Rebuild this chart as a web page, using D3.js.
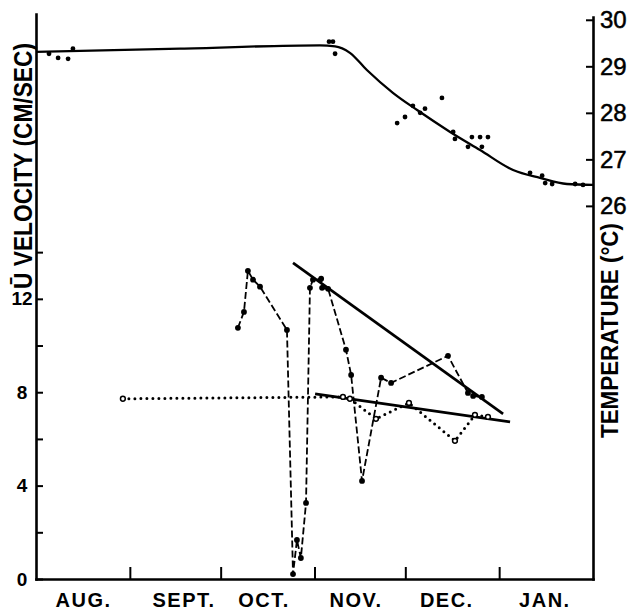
<!DOCTYPE html>
<html>
<head>
<meta charset="utf-8">
<script src="https://cdn.jsdelivr.net/npm/d3@7"></script>
<style>
  body { margin: 0; background: #fff; }
  text { font-family: "Liberation Sans", Arial, sans-serif; fill: #000; }
</style>
</head>
<body>
<div id="chart"></div>
<script>
// days are counted from 1 August
const monthStarts = [31, 61, 92, 122, 153];
const monthNames = ['AUG.', 'SEPT.', 'OCT.', 'NOV.', 'DEC.', 'JAN.'];
const monthLabelDays = [15.7, 48.9, 75.3, 105.7, 135.7, 168.1];
const velocityTicks = [0, 2, 4, 6, 8, 10, 12, 14];
const velocityLabels = [0, 4, 8, 12];
const tempTicks = [26, 27, 28, 29, 30];

// smoothed temperature curve
const tempCurveDays = [0, 47.6, 93.8, 98.8, 103.7, 109.3, 117.9, 125.9, 136.8, 146.7, 157.6, 166.5, 175.4, 184];
const tempCurveVals = [29.31, 29.38, 29.45, 29.43, 29.29, 28.92, 28.43, 28.06, 27.59, 27.2, 26.77, 26.6, 26.47, 26.45];
// observed temperatures
const tempObsDays = [4.3, 7.3, 10.6, 12.2, 96.8, 98.1, 98.8, 119.3, 121.9, 124.5, 126.9, 128.5, 134.1, 137.8, 138.4, 142.7, 144.0, 146.7, 147.3, 149.3, 163.2, 167.2, 168.2, 170.5, 178.1, 180.7];
const tempObsVals = [29.27, 29.18, 29.16, 29.38, 29.53, 29.53, 29.27, 27.78, 27.91, 28.15, 28.0, 28.09, 28.32, 27.59, 27.44, 27.27, 27.48, 27.48, 27.27, 27.48, 26.71, 26.65, 26.49, 26.47, 26.47, 26.45];

// velocity, dashed series (filled dots)
const dashDays = [66.7, 68.7, 70.0, 71.7, 74.0, 82.9, 84.9, 86.2, 87.5, 89.2, 90.5, 91.5, 94.2, 94.5, 96.5, 102.4, 104.1, 107.7, 114.0, 117.3, 136.1, 142.7, 144.4, 147.3];
const dashVals = [10.76, 11.44, 13.2, 12.82, 12.52, 10.67, 0.21, 1.67, 0.9, 3.26, 12.47, 12.82, 12.86, 12.47, 12.43, 9.82, 8.74, 4.2, 8.62, 8.4, 9.56, 7.97, 7.84, 7.8];

// velocity, dotted series (open circles)
const dotDays = [28.7, 101.4, 103.7, 112.3, 123.2, 138.4, 145.0, 149.3];
const dotVals = [7.72, 7.8, 7.72, 6.86, 7.54, 5.92, 7.03, 6.94];

// fitted straight lines
const fitSteepDays = [84.9, 154.3];
const fitSteepVals = [13.54, 7.07];
const fitFlatDays = [92.2, 156.6];
const fitFlatVals = [7.93, 6.73];

const W = 637, H = 612;
const svg = d3.select('#chart').append('svg')
  .attr('width', W).attr('height', H);

const x = d3.scaleLinear().domain([0, 184]).range([36, 593]);
const yV = d3.scaleLinear().domain([0, 24.2]).range([579, 14]);
const yT = d3.scaleLinear().domain([17.98, 30.06]).range([579, 17]);

// axes
const leftAxis = svg.append('g').attr('transform', 'translate(36,0)')
  .call(d3.axisLeft(yV).tickValues(velocityTicks).tickSizeInner(-7).tickSizeOuter(0)
    .tickPadding(14).tickFormat(d => velocityLabels.includes(d) ? d : ''));
leftAxis.selectAll('text').attr('text-anchor', 'middle')
  .style('font-size', '19px').style('font-weight', 'bold');

const rightAxis = svg.append('g').attr('transform', 'translate(593,0)')
  .call(d3.axisRight(yT).tickValues(tempTicks).tickSizeInner(-7).tickSizeOuter(0).tickPadding(7));
rightAxis.selectAll('text')
  .style('font-size', '24px').attr('stroke', '#000').attr('stroke-width', 0.5);

svg.append('g').attr('transform', 'translate(0,579)')
  .call(d3.axisBottom(x).tickValues(monthStarts).tickSizeInner(-12).tickSizeOuter(0).tickFormat(''));

svg.selectAll('.domain').attr('stroke', '#000').attr('stroke-width', 2.6).attr('stroke-linecap', 'square');
svg.selectAll('.tick line').attr('stroke', '#000').attr('stroke-width', 2);

// month names
svg.append('g').selectAll('text')
  .data(monthNames)
  .join('text')
  .attr('x', (d, i) => x(monthLabelDays[i]))
  .attr('y', 607)
  .attr('text-anchor', 'middle')
  .style('font-size', '20px').style('font-weight', 'bold').style('letter-spacing', '1.5px')
  .text(d => d);

// axis titles
svg.append('text')
  .attr('transform', 'translate(32,289) rotate(-90)')
  .attr('text-anchor', 'start')
  .style('font-size', '25px').style('font-weight', 'bold')
  .attr('textLength', 246).attr('lengthAdjust', 'spacingAndGlyphs')
  .text('Ū VELOCITY (CM/SEC)');
svg.append('text')
  .attr('transform', 'translate(618,330.5) rotate(-90)')
  .attr('text-anchor', 'middle')
  .style('font-size', '23px').style('font-weight', 'bold')
  .attr('textLength', 215).attr('lengthAdjust', 'spacingAndGlyphs')
  .text('TEMPERATURE (°C)');

// temperature curve
const tempLine = d3.line().x(d => x(d[0])).y(d => yT(d[1])).curve(d3.curveMonotoneX);
svg.append('path')
  .attr('d', tempLine(d3.zip(tempCurveDays, tempCurveVals)))
  .attr('fill', 'none').attr('stroke', '#000').attr('stroke-width', 2.3);
svg.append('g').selectAll('circle')
  .data(d3.zip(tempObsDays, tempObsVals))
  .join('circle')
  .attr('cx', d => x(d[0])).attr('cy', d => yT(d[1])).attr('r', 2.4)
  .attr('fill', '#000');

// velocity lines
const vLine = d3.line().x(d => x(d[0])).y(d => yV(d[1]));
svg.append('path')
  .attr('d', vLine(d3.zip(fitSteepDays, fitSteepVals)))
  .attr('fill', 'none').attr('stroke', '#000').attr('stroke-width', 2.7);
svg.append('path')
  .attr('d', vLine(d3.zip(fitFlatDays, fitFlatVals)))
  .attr('fill', 'none').attr('stroke', '#000').attr('stroke-width', 2.7);

svg.append('path')
  .attr('d', vLine(d3.zip(dashDays, dashVals)))
  .attr('fill', 'none').attr('stroke', '#000').attr('stroke-width', 1.8)
  .attr('stroke-dasharray', '7,3');
svg.append('path')
  .attr('d', vLine(d3.zip(dotDays, dotVals)))
  .attr('fill', 'none').attr('stroke', '#000').attr('stroke-width', 3)
  .attr('stroke-linecap', 'round').attr('stroke-dasharray', '0,6');

svg.append('g').selectAll('circle')
  .data(d3.zip(dashDays, dashVals))
  .join('circle')
  .attr('cx', d => x(d[0])).attr('cy', d => yV(d[1])).attr('r', 2.9)
  .attr('fill', '#000');
svg.append('g').selectAll('circle')
  .data(d3.zip(dotDays, dotVals))
  .join('circle')
  .attr('cx', d => x(d[0])).attr('cy', d => yV(d[1])).attr('r', 2.4)
  .attr('fill', '#fff').attr('stroke', '#000').attr('stroke-width', 1.5);
</script>
</body>
</html>
